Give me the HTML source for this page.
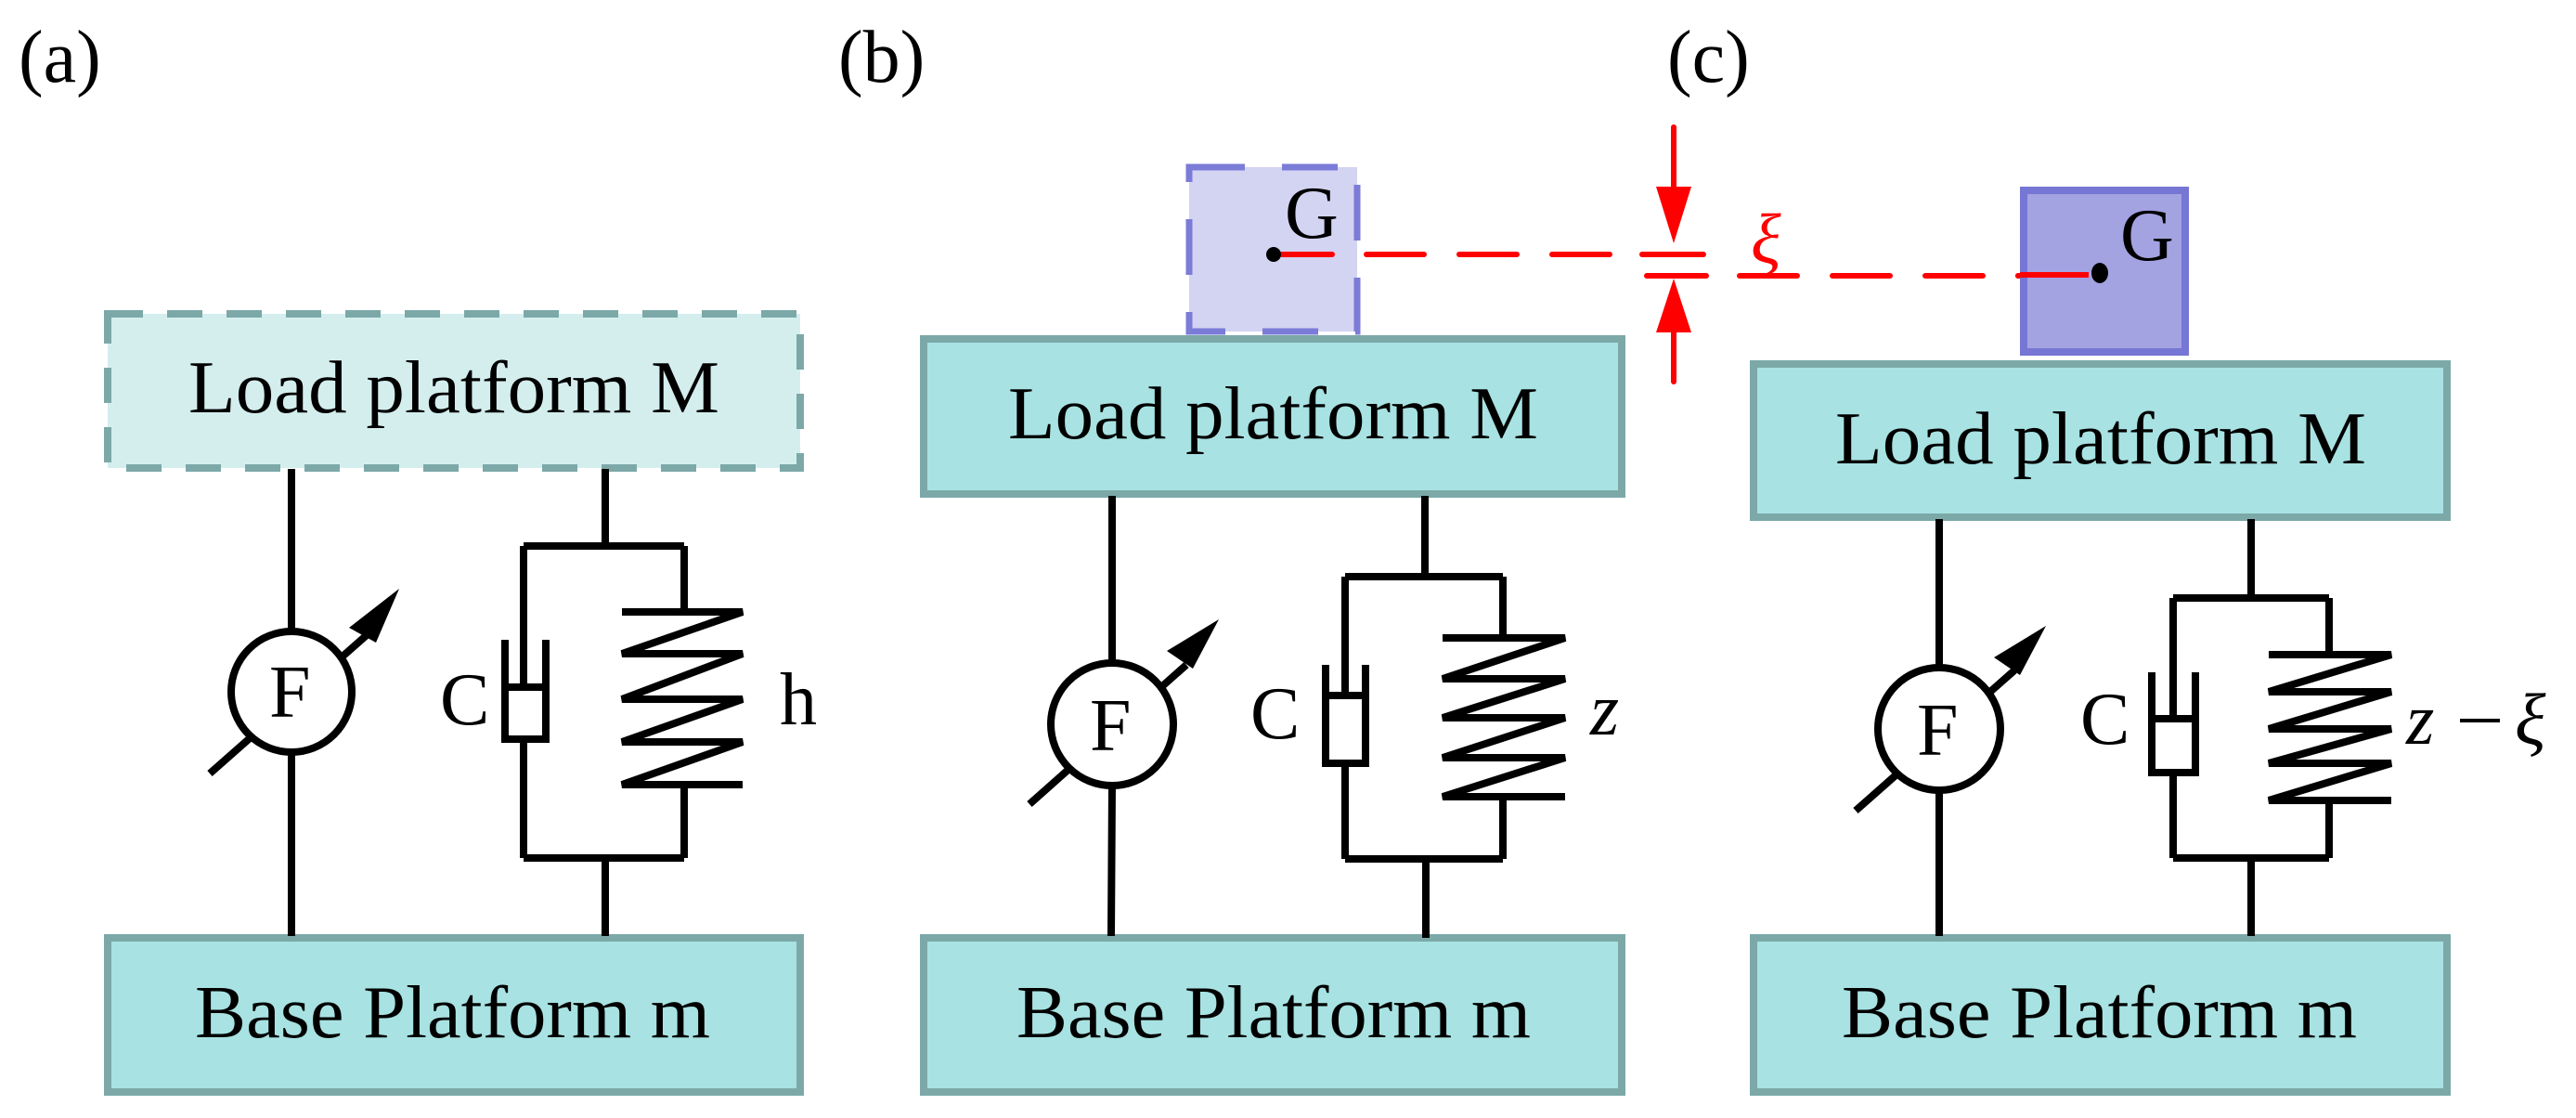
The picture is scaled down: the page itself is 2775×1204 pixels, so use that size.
<!DOCTYPE html>
<html><head><meta charset="utf-8"><style>
html,body{margin:0;padding:0;background:#fff;}
svg{display:block;}
text{font-family:"Liberation Serif",serif;fill:#000;}
</style></head><body>
<svg width="2775" height="1204" viewBox="0 0 2775 1204" xmlns="http://www.w3.org/2000/svg">
<g font-size="80">
<text x="20" y="88">(a)</text>
<text x="903" y="88">(b)</text>
<text x="1796" y="88">(c)</text>
</g>

<!-- Panel A -->
<rect x="116" y="338" width="746" height="166" fill="#d4eeee" stroke="#7ca8a8" stroke-width="8" stroke-dasharray="38,26"/>
<text x="203" y="444" font-size="80" textLength="572" lengthAdjust="spacingAndGlyphs">Load platform M</text>
<rect x="116" y="1010" width="746" height="166" fill="#a8e2e2" stroke="#7ca8a8" stroke-width="8"/>
<text x="210" y="1117" font-size="80" textLength="555" lengthAdjust="spacingAndGlyphs">Base Platform m</text>
<g stroke="#000" stroke-width="8" fill="none">
<line x1="314" y1="505" x2="314" y2="680"/>
<line x1="314" y1="810" x2="314" y2="1008"/>
<line x1="226" y1="833" x2="395" y2="684"/>
<circle cx="314" cy="745" r="65" fill="#fff"/>
<polyline points="652,505 652,588"/>
<polyline points="564,588 737,588"/>
<line x1="564" y1="588" x2="564" y2="740"/>
<polyline points="544,689 544,796 588,796 588,689"/>
<line x1="544" y1="740" x2="588" y2="740"/>
<line x1="564" y1="796" x2="564" y2="924"/>
<line x1="737" y1="588" x2="737" y2="659"/>
<polyline points="737,659 800,659 670,704 800,704 670,753 800,753 670,799 800,799 670,845 800,845"/>
<line x1="670" y1="659" x2="737" y2="659"/>
<line x1="670" y1="845" x2="737" y2="845"/>
<line x1="737" y1="845" x2="737" y2="924"/>
<line x1="564" y1="924" x2="737" y2="924"/>
<line x1="652" y1="924" x2="652" y2="1008"/>
</g>
<polygon points="430,634 376,676 405,692" fill="#000"/>
<text x="290" y="772" font-size="80">F</text>
<text x="474" y="780" font-size="80">C</text>
<text x="840" y="780" font-size="80">h</text>

<!-- Panel B -->
<rect x="1281" y="180" width="181" height="177" fill="#d3d3f2" stroke="#7b7bd8" stroke-width="7" stroke-dasharray="60,40"/>
<rect x="995" y="365" width="752" height="167" fill="#a8e2e2" stroke="#7ca8a8" stroke-width="8"/>
<text x="1086" y="472" font-size="80" textLength="571" lengthAdjust="spacingAndGlyphs">Load platform M</text>
<rect x="995" y="1010" width="752" height="166" fill="#a8e2e2" stroke="#7ca8a8" stroke-width="8"/>
<text x="1095" y="1117" font-size="80" textLength="554" lengthAdjust="spacingAndGlyphs">Base Platform m</text>
<text x="1384" y="256" font-size="80">G</text>
<g stroke="#000" stroke-width="8" fill="none">
<line x1="1198" y1="534" x2="1198" y2="714"/>
<line x1="1198" y1="846" x2="1197" y2="1008"/>
<line x1="1109" y1="866" x2="1278" y2="716"/>
<circle cx="1198" cy="780" r="66" fill="#fff"/>
<line x1="1535" y1="534" x2="1535" y2="621"/>
<line x1="1449" y1="621" x2="1619" y2="621"/>
<line x1="1449" y1="621" x2="1449" y2="749"/>
<polyline points="1428,716 1428,822 1471,822 1471,716"/>
<line x1="1428" y1="749" x2="1471" y2="749"/>
<line x1="1449" y1="822" x2="1449" y2="925"/>
<line x1="1619" y1="621" x2="1619" y2="687"/>
<polyline points="1554,687 1686,687 1554,731 1686,731 1554,773 1686,773 1554,816 1686,816 1554,858 1686,858"/>
<line x1="1619" y1="858" x2="1619" y2="925"/>
<line x1="1449" y1="925" x2="1619" y2="925"/>
<line x1="1536" y1="925" x2="1536" y2="1010"/>
</g>
<polygon points="1313,667 1257,701 1285,720" fill="#000"/>
<text x="1174" y="808" font-size="80">F</text>
<text x="1347" y="795" font-size="80">C</text>
<text x="1713" y="791" font-size="80" font-style="italic">z</text>

<!-- red dimension -->
<g stroke="#f00" stroke-width="6" fill="none" stroke-linecap="round">
<line x1="1372" y1="274" x2="1435" y2="274"/>
<line x1="1472" y1="274" x2="1835" y2="274" stroke-dasharray="62,38"/>
<line x1="1769" y1="274" x2="1835" y2="274"/>
<line x1="1774" y1="297" x2="1838" y2="297"/>
<line x1="1874" y1="297" x2="2250" y2="297" stroke-dasharray="62,38"/>
<line x1="2174" y1="297" x2="2250" y2="297"/>
<line x1="1803" y1="137" x2="1803" y2="205"/>
<line x1="1803" y1="350" x2="1803" y2="411"/>
</g>
<polygon points="1803,262 1784,201 1822,201" fill="#f00"/>
<polygon points="1803,300 1784,358 1822,358" fill="#f00"/>
<text x="1886" y="283" font-size="76" font-style="italic" style="fill:#f00">ξ</text>
<circle cx="1372" cy="274" r="8" fill="#000"/>

<!-- Panel C -->
<rect x="2180" y="205" width="174" height="174" fill="#a3a3e2" stroke="#7676d4" stroke-width="8"/>
<line x1="2176" y1="296" x2="2250" y2="296" stroke="#f00" stroke-width="6"/>
<ellipse cx="2262" cy="294" rx="9" ry="11" fill="#000"/>
<text x="2284" y="280" font-size="80">G</text>
<rect x="1889" y="392" width="747" height="165" fill="#a8e2e2" stroke="#7ca8a8" stroke-width="8"/>
<text x="1977" y="499" font-size="80" textLength="572" lengthAdjust="spacingAndGlyphs">Load platform M</text>
<rect x="1889" y="1010" width="747" height="166" fill="#a8e2e2" stroke="#7ca8a8" stroke-width="8"/>
<text x="1984" y="1117" font-size="80" textLength="555" lengthAdjust="spacingAndGlyphs">Base Platform m</text>
<g stroke="#000" stroke-width="8" fill="none">
<line x1="2089" y1="559" x2="2089" y2="720"/>
<line x1="2089" y1="851" x2="2089" y2="1008"/>
<line x1="1999" y1="873" x2="2170" y2="722"/>
<circle cx="2089" cy="785" r="66" fill="#fff"/>
<line x1="2425" y1="559" x2="2425" y2="644"/>
<line x1="2341" y1="644" x2="2509" y2="644"/>
<line x1="2341" y1="644" x2="2341" y2="774"/>
<polyline points="2318,724 2318,832 2365,832 2365,724"/>
<line x1="2318" y1="774" x2="2365" y2="774"/>
<line x1="2341" y1="832" x2="2341" y2="924"/>
<line x1="2509" y1="644" x2="2509" y2="705"/>
<polyline points="2444,705 2576,705 2444,745 2576,745 2444,785 2576,785 2444,822 2576,822 2444,862 2576,862"/>
<line x1="2509" y1="862" x2="2509" y2="924"/>
<line x1="2341" y1="924" x2="2509" y2="924"/>
<line x1="2425" y1="924" x2="2425" y2="1008"/>
</g>
<polygon points="2204,674 2148,708 2176,727" fill="#000"/>
<text x="2065" y="813" font-size="80">F</text>
<text x="2241" y="801" font-size="80">C</text>
<text x="2592" y="801" font-size="78" font-style="italic">z</text>
<line x1="2650" y1="776" x2="2693" y2="776" stroke="#000" stroke-width="4"/>
<text x="2709" y="801" font-size="78" font-style="italic">ξ</text>
</svg>
</body></html>
